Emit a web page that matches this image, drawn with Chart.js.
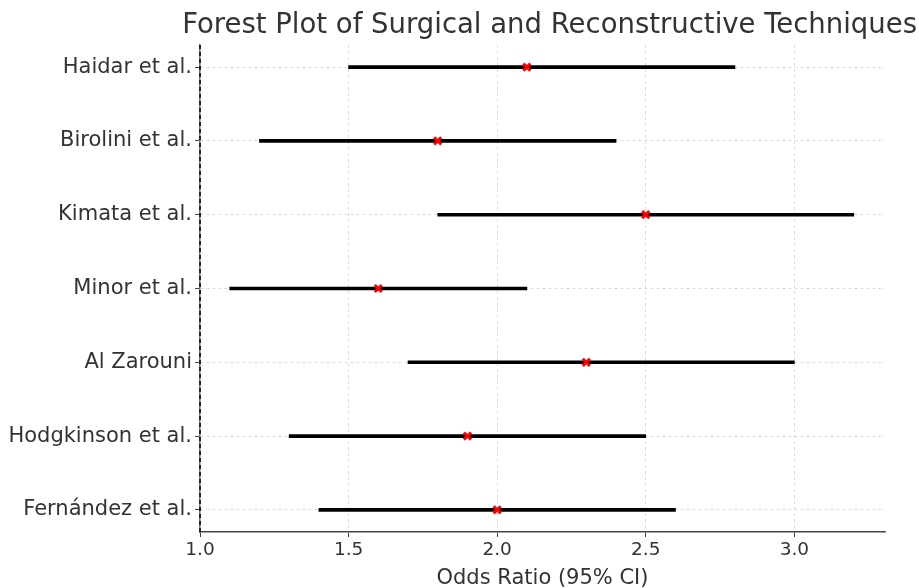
<!DOCTYPE html>
<html>
<head>
<meta charset="utf-8">
<script src="https://cdn.jsdelivr.net/npm/chart.js@4/dist/chart.umd.min.js"></script>
<style>
    html, body { margin: 0; padding: 0; background: #fff; }
    #wrap { width: 919px; height: 588px; }
</style>
</head>
<body>
<div id="wrap"><canvas id="forestChart" width="919" height="588"></canvas></div>
<script>
// ===== DATA =====
const studies = ["Haidar et al.", "Birolini et al.", "Kimata et al.", "Minor et al.", "Al Zarouni", "Hodgkinson et al.", "Fernández et al."];
const oddsRatio = [2.1, 1.8, 2.5, 1.6, 2.3, 1.9, 2.0];
const ciLower = [1.5, 1.2, 1.8, 1.1, 1.7, 1.3, 1.4];
const ciUpper = [2.8, 2.4, 3.2, 2.1, 3.0, 2.5, 2.6];
const xTicks = [1.0, 1.5, 2.0, 2.5, 3.0];
const refValue = 1.0;

// ===== STYLE =====
const textColor = "#333";
const gridColor = "#d4d4d4";
const font = "'DejaVu Sans', sans-serif";

// ===== BUILD DATASETS =====
const ciData = studies.map((s, i) => ({ x: [ciLower[i], ciUpper[i]], y: i }));
const orData = studies.map((s, i) => ({ x: oddsRatio[i], y: i }));
const refData = [{ x: refValue, y: -0.3 }, { x: refValue, y: studies.length - 0.7 }];

function initChart() {
    const ctx = document.getElementById("forestChart");

    new Chart(ctx, {
        type: "scatter",
        data: {
            datasets: [
                {
                    type: "line",
                    label: "Reference",
                    data: refData,
                    borderColor: "#222",
                    borderWidth: 2,
                    borderDash: [4, 3],
                    pointRadius: 0,
                    clip: false,
                    order: 0
                },
                {
                    type: "scatter",
                    label: "Odds Ratio",
                    data: orData,
                    pointStyle: "crossRot",
                    pointRadius: 5,
                    borderColor: "#ff0000",
                    borderWidth: 3,
                    order: 1
                },
                {
                    type: "bar",
                    label: "95% CI",
                    indexAxis: "y",
                    data: ciData,
                    backgroundColor: "#000",
                    barThickness: 3,
                    order: 2
                }
            ]
        },
        options: {
            responsive: false,
            animation: false,
            layout: { padding: { left: 0, right: 2, top: 0, bottom: 0 } },
            plugins: {
                legend: { display: false },
                tooltip: { enabled: false },
                title: {
                    display: true,
                    align: "end",
                    text: "Forest Plot of Surgical and Reconstructive Techniques",
                    color: textColor,
                    font: { family: font, size: 27.5, weight: "normal" },
                    padding: { top: 9, bottom: 3 }
                }
            },
            scales: {
                x: {
                    type: "linear",
                    min: 1.0,
                    max: 3.305,
                    offset: false,
                    afterBuildTicks: (scale) => {
                        scale.ticks = xTicks.map(v => ({ value: v }));
                    },
                    afterFit: (scale) => { scale.height = 56; },
                    ticks: {
                        color: textColor,
                        font: { family: font, size: 18.5 },
                        padding: 2,
                        maxRotation: 0,
                        callback: (v) => Number(v).toFixed(1)
                    },
                    grid: {
                        offset: false,
                        color: gridColor,
                        lineWidth: 0.8,
                        tickColor: "#444",
                        tickLength: 5,
                        tickWidth: 1
                    },
                    border: { display: true, color: "#444", width: 1.5, dash: [3, 3] },
                    title: {
                        display: true,
                        text: "Odds Ratio (95% CI)",
                        color: textColor,
                        font: { family: font, size: 21 },
                        padding: { top: 0, bottom: -3 }
                    }
                },
                y: {
                    type: "linear",
                    reverse: true,
                    min: -0.3,
                    max: studies.length - 0.7,
                    offset: false,
                    afterBuildTicks: (scale) => {
                        scale.ticks = studies.map((s, i) => ({ value: i }));
                    },
                    afterFit: (scale) => { scale.width = 200; },
                    ticks: {
                        color: textColor,
                        font: { family: font, size: 21 },
                        padding: 3,
                        callback: (v) => studies[v]
                    },
                    grid: {
                        offset: false,
                        color: gridColor,
                        lineWidth: 0.8,
                        tickColor: "#444",
                        tickLength: 5,
                        tickWidth: 1
                    },
                    border: { display: true, color: "#777", width: 1.5, dash: [3, 3] }
                },
                // empty right axis, only reserves the blank margin right of the plot
                yRight: {
                    type: "linear",
                    position: "right",
                    display: true,
                    afterFit: (scale) => { scale.width = 32; },
                    ticks: { display: false },
                    grid: { display: false, drawTicks: false },
                    border: { display: false }
                }
            }
        }
    });
}

document.addEventListener("DOMContentLoaded", initChart);
</script>
</body>
</html>
